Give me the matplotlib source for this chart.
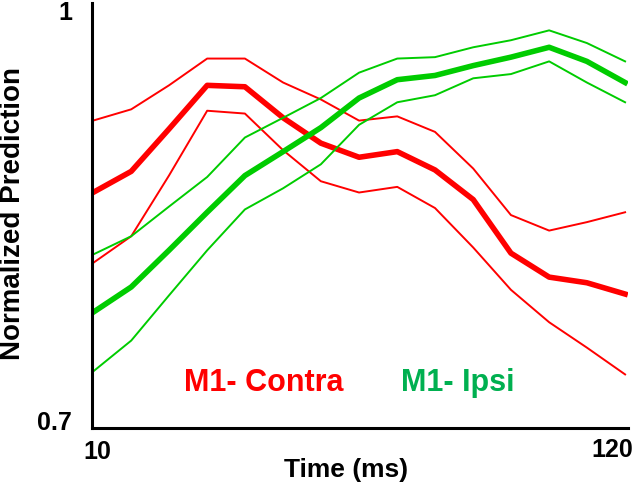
import matplotlib
matplotlib.use('Agg')
import matplotlib.pyplot as plt

plt.rcParams['font.family'] = ['Liberation Sans', 'DejaVu Sans']
plt.rcParams['font.weight'] = 'bold'

# DATA
time_ms = [10, 17.9, 25.7, 33.6, 41.4, 49.3, 57.1, 65, 72.9, 80.7, 88.6, 96.4, 104.3, 112.1, 120]

contra_mean = [0.867, 0.882, 0.912, 0.943, 0.942, 0.920, 0.902, 0.892, 0.896, 0.883,
               0.862, 0.824, 0.807, 0.803, 0.795]
contra_upper = [0.918, 0.926, 0.943, 0.962, 0.962, 0.945, 0.933, 0.918, 0.921, 0.910,
                0.884, 0.851, 0.840, 0.846, 0.853]
contra_lower = [0.817, 0.836, 0.879, 0.925, 0.923, 0.897, 0.875, 0.867, 0.871, 0.856,
                0.828, 0.798, 0.775, 0.757, 0.738]

ipsi_mean = [0.782, 0.800, 0.826, 0.853, 0.879, 0.896, 0.913, 0.934, 0.947, 0.950,
             0.957, 0.963, 0.970, 0.960, 0.945]
ipsi_upper = [0.823, 0.836, 0.857, 0.878, 0.906, 0.920, 0.934, 0.952, 0.962, 0.963,
              0.970, 0.975, 0.982, 0.973, 0.960]
ipsi_lower = [0.740, 0.762, 0.794, 0.826, 0.855, 0.870, 0.887, 0.915, 0.931, 0.936,
              0.948, 0.951, 0.960, 0.945, 0.931]

red = '#ff0000'
green_line = '#00cc00'
green_text = '#00b050'

fig = plt.figure(figsize=(6.4, 4.84), dpi=100)
ax = fig.add_axes([92 / 640, 56 / 484, 536 / 640, 425 / 484])

ax.plot(time_ms, contra_upper, color=red, lw=1.4)
ax.plot(time_ms, contra_lower, color=red, lw=1.4)
ax.plot(time_ms, contra_mean, color=red, lw=4)
ax.plot(time_ms, ipsi_upper, color=green_line, lw=1.4)
ax.plot(time_ms, ipsi_lower, color=green_line, lw=1.4)
ax.plot(time_ms, ipsi_mean, color=green_line, lw=4)

ax.set_xlim(9.79, 120.6)
ax.set_ylim(0.7, 1.0014)

for side in ['top', 'right']:
    ax.spines[side].set_visible(False)
for side in ['left', 'bottom']:
    ax.spines[side].set_linewidth(2.2)
    ax.spines[side].set_color('black')
ax.set_xticks([])
ax.set_yticks([])

# tick labels placed by hand
ax.text(10.9, -0.056, '10', transform=ax.get_xaxis_transform(), ha='center', va='center',
        fontsize=18, fontweight='bold')
ax.text(117.3, -0.052, '120', transform=ax.get_xaxis_transform(), ha='center', va='center',
        fontsize=18, fontweight='bold')
ax.text(-0.05, 0.976, '1', transform=ax.transAxes, ha='center', va='center',
        fontsize=18, fontweight='bold')
ax.text(-0.038, 0.7035, '0.7', transform=ax.get_yaxis_transform(), ha='right', va='center',
        fontsize=18, fontweight='bold')

fig.text(346 / 640, 1 - 470 / 484, 'Time (ms)', ha='center', va='center',
         fontsize=19, fontweight='bold')
fig.text(13 / 640, 1 - 214 / 484, 'Normalized Prediction', ha='center', va='center',
         rotation=90, fontsize=20, fontweight='bold')

fig.text(264 / 640, 1 - 383 / 484, 'M1- Contra', ha='center', va='center',
         fontsize=22, fontweight='bold', color=red)
fig.text(458 / 640, 1 - 383 / 484, 'M1- Ipsi', ha='center', va='center',
         fontsize=22, fontweight='bold', color=green_text)

fig.savefig('out.png', dpi=100)
